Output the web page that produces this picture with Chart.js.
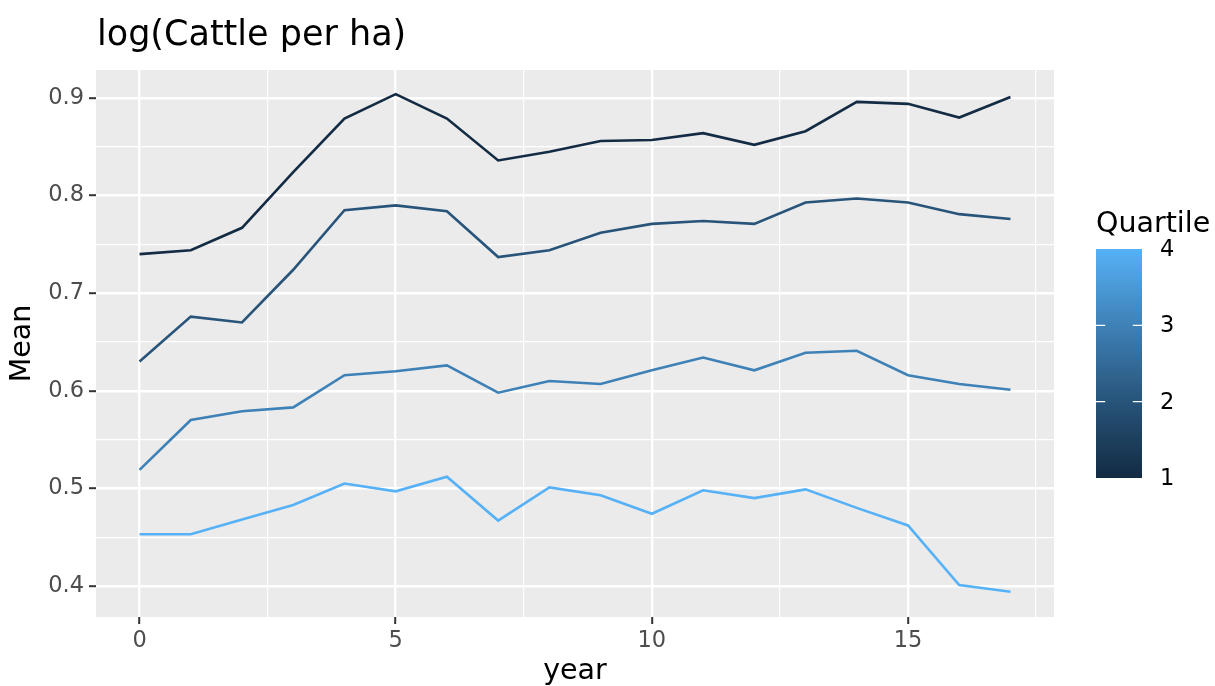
<!DOCTYPE html>
<html>
<head>
<meta charset="utf-8">
<title>log(Cattle per ha)</title>
<script src="https://cdn.jsdelivr.net/npm/chart.js@4/dist/chart.umd.min.js"></script>
<style>
  html, body { margin: 0; padding: 0; background: #ffffff; }
  #wrap { width: 1215px; height: 686px; }
</style>
</head>
<body>
<div id="wrap"><canvas id="chart" width="1215" height="686"></canvas></div>
<script>
// ---- data ----
const years = [0, 1, 2, 3, 4, 5, 6, 7, 8, 9, 10, 11, 12, 13, 14, 15, 16, 17];
const quartiles = [1, 2, 3, 4];
const q1Mean = [0.740, 0.744, 0.767, 0.824, 0.879, 0.904, 0.879, 0.836, 0.845, 0.856, 0.857, 0.864, 0.852, 0.866, 0.896, 0.894, 0.880, 0.901];
const q2Mean = [0.630, 0.676, 0.670, 0.724, 0.785, 0.790, 0.784, 0.737, 0.744, 0.762, 0.771, 0.774, 0.771, 0.793, 0.797, 0.793, 0.781, 0.776];
const q3Mean = [0.519, 0.570, 0.579, 0.583, 0.616, 0.620, 0.626, 0.598, 0.610, 0.607, 0.621, 0.634, 0.621, 0.639, 0.641, 0.616, 0.607, 0.601];
const q4Mean = [0.453, 0.453, 0.468, 0.483, 0.505, 0.497, 0.512, 0.467, 0.501, 0.493, 0.474, 0.498, 0.490, 0.499, 0.480, 0.462, 0.401, 0.394];
const seriesMeans = [q1Mean, q2Mean, q3Mean, q4Mean];
const xTickValues = [0, 5, 10, 15];
const yTickValues = [0.4, 0.5, 0.6, 0.7, 0.8, 0.9];
const legendTickLabels = ['1', '2', '3', '4'];

// ---- colour gradient (Lab interpolation, dark navy -> light blue) ----
const LOW = '#132B43', HIGH = '#56B1F7';
function hexToRgb(h) {
  const n = parseInt(h.slice(1), 16);
  return [(n >> 16) & 255, (n >> 8) & 255, n & 255];
}
function rgbToLab([r, g, b]) {
  const lin = c => { c /= 255; return c <= 0.04045 ? c / 12.92 : Math.pow((c + 0.055) / 1.055, 2.4); };
  const R = lin(r), G = lin(g), B = lin(b);
  const X = (0.4124564 * R + 0.3575761 * G + 0.1804375 * B) / 0.95047;
  const Y = (0.2126729 * R + 0.7151522 * G + 0.0721750 * B);
  const Z = (0.0193339 * R + 0.1191920 * G + 0.9503041 * B) / 1.08883;
  const f = t => t > 0.008856 ? Math.cbrt(t) : 7.787 * t + 16 / 116;
  const fx = f(X), fy = f(Y), fz = f(Z);
  return [116 * fy - 16, 500 * (fx - fy), 200 * (fy - fz)];
}
function labToRgb([L, a, b]) {
  const fy = (L + 16) / 116, fx = fy + a / 500, fz = fy - b / 200;
  const fi = t => t * t * t > 0.008856 ? t * t * t : (t - 16 / 116) / 7.787;
  const X = fi(fx) * 0.95047, Y = fi(fy), Z = fi(fz) * 1.08883;
  const R = 3.2404542 * X - 1.5371385 * Y - 0.4985314 * Z;
  const G = -0.9692660 * X + 1.8760108 * Y + 0.0415560 * Z;
  const B = 0.0556434 * X - 0.2040259 * Y + 1.0572252 * Z;
  const gam = c => { c = c <= 0.0031308 ? 12.92 * c : 1.055 * Math.pow(c, 1 / 2.4) - 0.055; return Math.round(Math.min(1, Math.max(0, c)) * 255); };
  return [gam(R), gam(G), gam(B)];
}
const labLow = rgbToLab(hexToRgb(LOW)), labHigh = rgbToLab(hexToRgb(HIGH));
function quartileColour(q) {
  const t = (q - 1) / 3;
  const lab = labLow.map((v, i) => v + (labHigh[i] - v) * t);
  const [r, g, b] = labToRgb(lab);
  return `rgb(${r},${g},${b})`;
}

// ---- styling ----
const FAMILY = '"DejaVu Sans", "Liberation Sans", sans-serif';
const TICK_PX = 22.5, AXIS_TITLE_PX = 28.5, TITLE_PX = 35;

const datasets = quartiles.map((q, i) => ({
  label: 'Quartile ' + q,
  data: years.map((yr, j) => ({ x: yr, y: seriesMeans[i][j] })),
  borderColor: quartileColour(q),
  backgroundColor: quartileColour(q),
  borderWidth: 2.6,
  pointRadius: 0,
  pointHoverRadius: 0,
  tension: 0,
  fill: false
}));

// minor grid positions sit halfway between the labelled breaks
function withMinor(major) {
  const step = major[1] - major[0];
  const out = [];
  major.forEach(v => { out.push(+(v - step / 2).toFixed(6)); out.push(v); });
  out.push(+(major[major.length - 1] + step / 2).toFixed(6));
  return out;
}
const isMajor = (list, v) => list.some(m => Math.abs(m - v) < 1e-6);

// panel background + title + colour-bar legend
const decorations = {
  id: 'decorations',
  beforeDraw(chart) {
    const { ctx, chartArea: a } = chart;
    ctx.save();
    ctx.fillStyle = '#EBEBEB';
    ctx.fillRect(a.left, a.top, a.right - a.left, a.bottom - a.top);
    ctx.restore();
  },
  afterDraw(chart) {
    const { ctx, chartArea: a } = chart;
    ctx.save();
    // title
    ctx.fillStyle = '#000000';
    ctx.font = `${TITLE_PX}px ${FAMILY}`;
    ctx.textAlign = 'left';
    ctx.textBaseline = 'alphabetic';
    ctx.fillText('log(Cattle per ha)', a.left + 1, 45);

    // legend title
    const barLeft = 1096, barWidth = 46, barTop = 249, barBottom = 478;
    ctx.font = `${AXIS_TITLE_PX}px ${FAMILY}`;
    ctx.fillText('Quartile', barLeft, 232);

    // colour bar as one smooth gradient
    const qMin = quartiles[0], qMax = quartiles[quartiles.length - 1];
    const yOf = q => barBottom - (q - qMin) / (qMax - qMin) * (barBottom - barTop);
    const grad = ctx.createLinearGradient(0, barBottom, 0, barTop);
    const stops = 48;
    for (let s = 0; s <= stops; s++) {
      grad.addColorStop(s / stops, quartileColour(qMin + (qMax - qMin) * s / stops));
    }
    ctx.fillStyle = grad;
    ctx.fillRect(barLeft, barTop, barWidth, barBottom - barTop);

    // bar ticks and labels
    const tickLen = barWidth * 0.2;
    ctx.strokeStyle = '#ffffff';
    ctx.lineWidth = 1.2;
    ctx.font = `${TICK_PX}px ${FAMILY}`;
    ctx.textBaseline = 'middle';
    quartiles.forEach((q, i) => {
      const y = yOf(q);
      if (q !== qMin && q !== qMax) {
        ctx.beginPath();
        ctx.moveTo(barLeft, y); ctx.lineTo(barLeft + tickLen, y);
        ctx.moveTo(barLeft + barWidth - tickLen, y); ctx.lineTo(barLeft + barWidth, y);
        ctx.stroke();
      }
      ctx.fillStyle = '#000000';
      ctx.fillText(legendTickLabels[i], barLeft + barWidth + 18, y + 1);
    });
    ctx.restore();
  }
};

new Chart(document.getElementById('chart'), {
  type: 'line',
  data: { datasets },
  plugins: [decorations],
  options: {
    responsive: false,
    devicePixelRatio: 1,
    animation: false,
    layout: { padding: { left: 0, top: 70, right: 161, bottom: 0 } },
    plugins: { legend: { display: false }, title: { display: false }, tooltip: { enabled: false } },
    scales: {
      x: {
        type: 'linear',
        min: -0.85,
        max: 17.85,
        afterBuildTicks(scale) { scale.ticks = withMinor(xTickValues).filter(v => v > scale.min && v < scale.max).map(v => ({ value: v })); },
        afterFit(scale) { scale.height = 69; },
        border: { display: false },
        grid: {
          color: '#ffffff',
          lineWidth: c => isMajor(xTickValues, c.tick.value) ? 2.4 : 1.2,
          drawTicks: true,
          tickLength: 7,
          tickWidth: 2,
          tickColor: c => isMajor(xTickValues, c.tick.value) ? '#333333' : 'rgba(0,0,0,0)'
        },
        ticks: {
          autoSkip: false,
          maxRotation: 0,
          padding: 4,
          color: '#4D4D4D',
          font: { family: FAMILY, size: TICK_PX },
          callback: v => isMajor(xTickValues, v) ? String(v) : ''
        },
        title: {
          display: true,
          text: 'year',
          color: '#000000',
          font: { family: FAMILY, size: AXIS_TITLE_PX, lineHeight: 1 },
          padding: { top: 0, bottom: 0 }
        }
      },
      y: {
        type: 'linear',
        min: 0.3682,
        max: 0.9287,
        afterBuildTicks(scale) { scale.ticks = withMinor(yTickValues).filter(v => v > scale.min && v < scale.max).map(v => ({ value: v })); },
        afterFit(scale) { scale.width = 96; },
        border: { display: false },
        grid: {
          color: '#ffffff',
          lineWidth: c => isMajor(yTickValues, c.tick.value) ? 2.4 : 1.2,
          drawTicks: true,
          tickLength: 7,
          tickWidth: 2,
          tickColor: c => isMajor(yTickValues, c.tick.value) ? '#333333' : 'rgba(0,0,0,0)'
        },
        ticks: {
          autoSkip: false,
          padding: 5,
          color: '#4D4D4D',
          font: { family: FAMILY, size: TICK_PX },
          callback: v => isMajor(yTickValues, v) ? v.toFixed(1) : ''
        },
        title: {
          display: true,
          text: 'Mean',
          color: '#000000',
          font: { family: FAMILY, size: AXIS_TITLE_PX, lineHeight: 1 },
          padding: { top: 8, bottom: 0 }
        }
      }
    }
  }
});
</script>
</body>
</html>
